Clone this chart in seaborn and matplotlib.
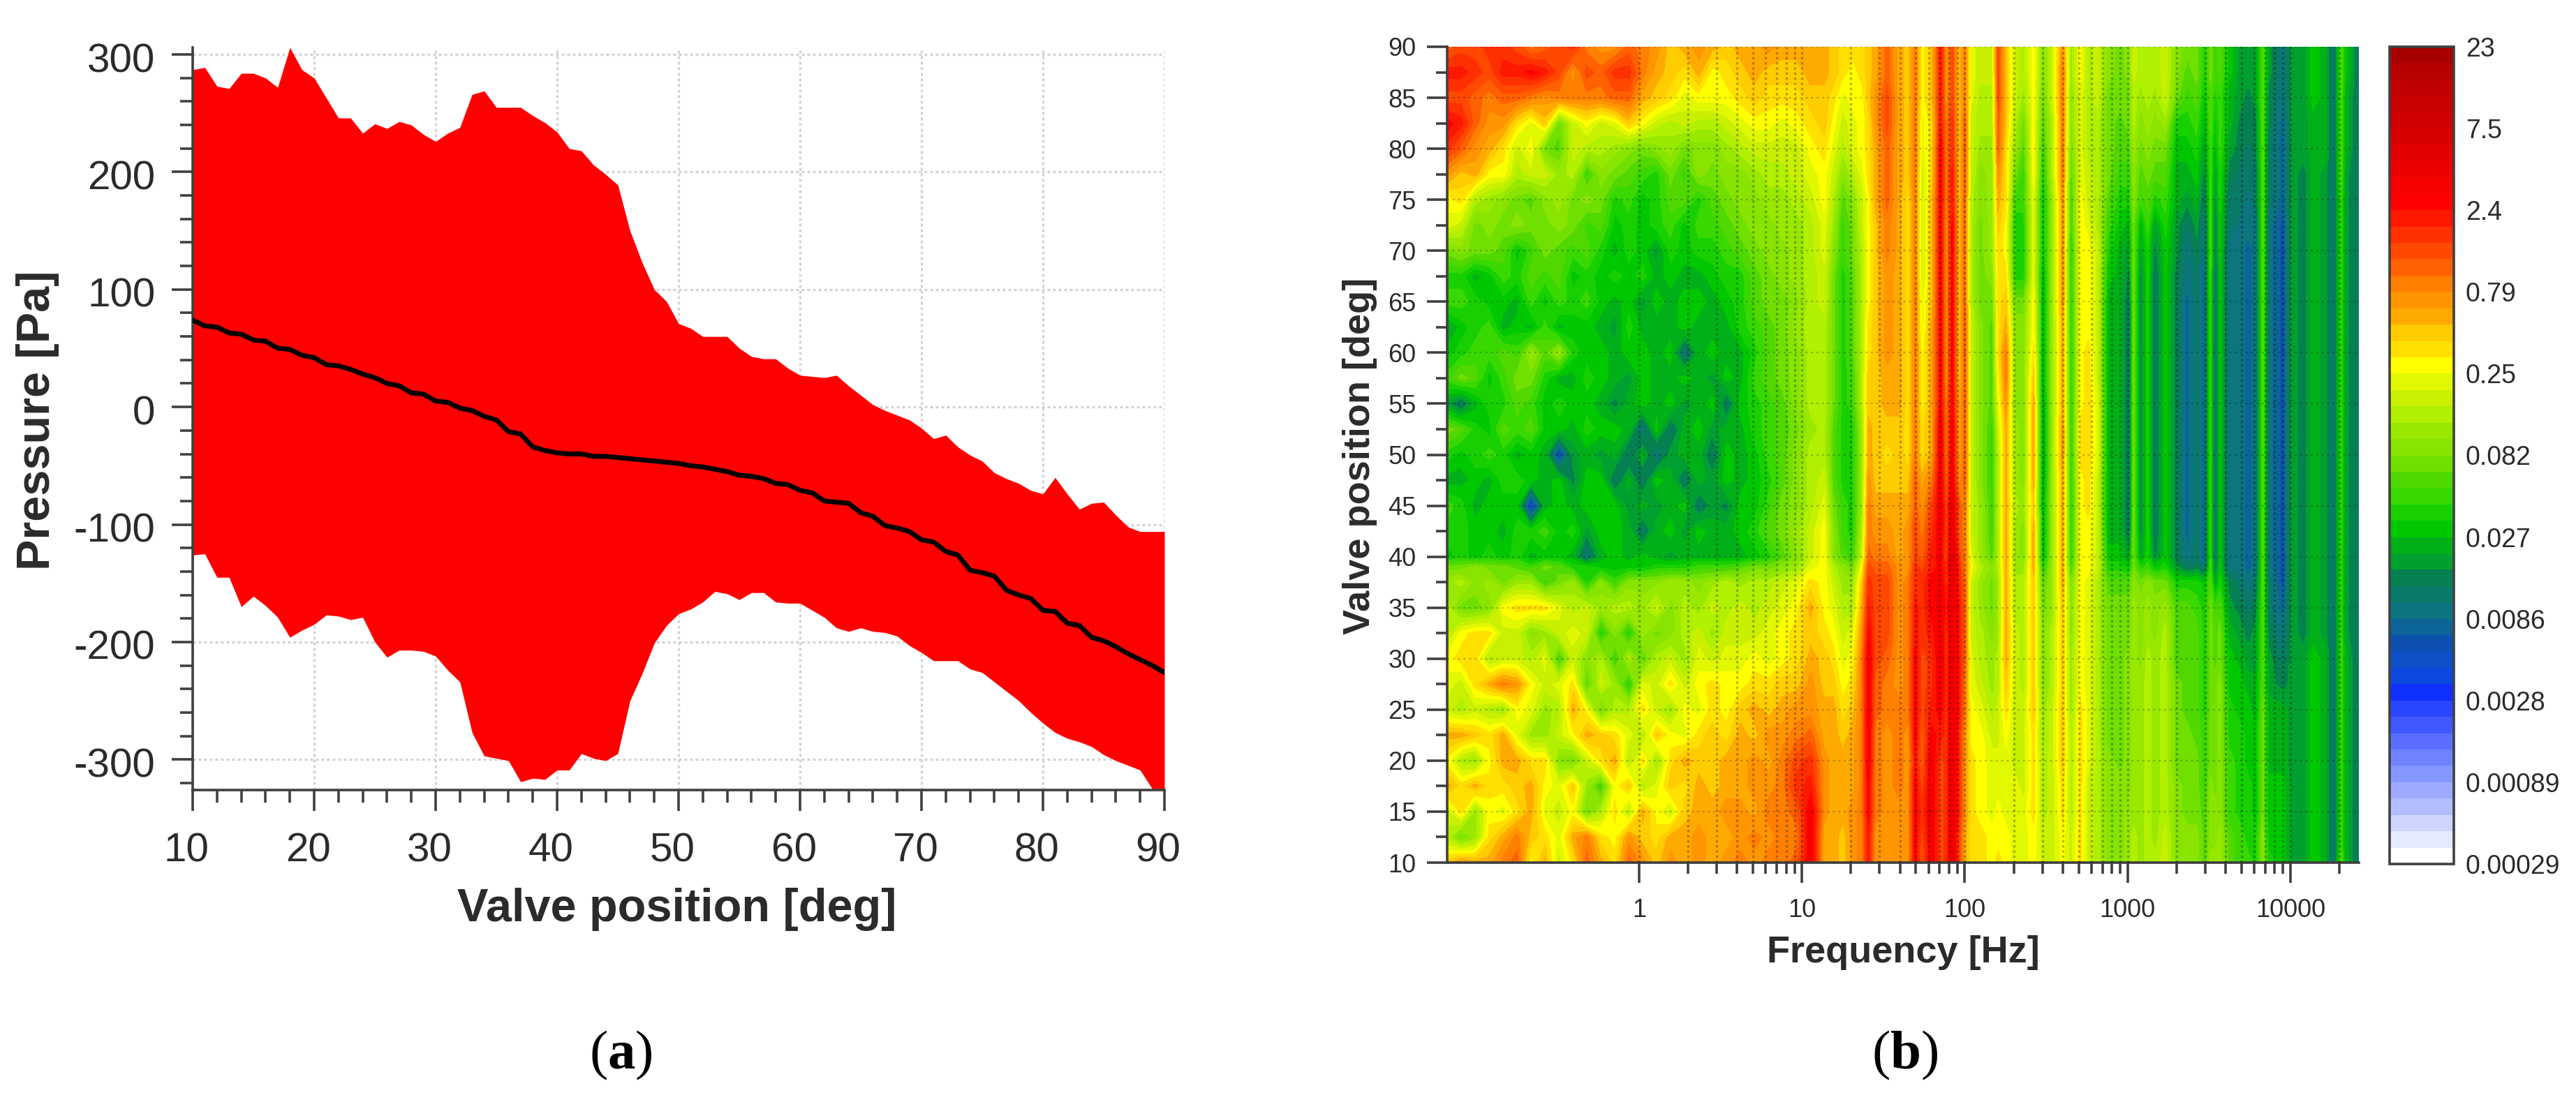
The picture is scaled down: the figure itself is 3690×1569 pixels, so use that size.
import numpy as np
import matplotlib
matplotlib.use("Agg")
import matplotlib.pyplot as plt
from matplotlib.colors import ListedColormap
from matplotlib.ticker import FixedLocator, NullFormatter
from matplotlib.transforms import ScaledTranslation
import seaborn as sns

W, H, DPI = 3691, 1569, 100

# ── (a) pressure band, one value per degree ──────────────────────────────────
valve_pos = list(range(10, 91))
pressure_mean = [74, 69, 68, 63, 62, 57, 56, 50, 49, 44, 42, 36, 35, 32, 28, 25, 20, 18, 12, 11,
                 5, 4, -1, -3, -8, -11, -21, -23, -34, -37, -39, -40, -40, -42, -42, -43, -44, -45, -46, -47,
                 -48, -50, -51, -53, -55, -58, -59, -61, -65, -66, -71, -73, -80, -81, -82, -90, -93, -101, -103, -106,
                 -113, -115, -123, -126, -139, -141, -144, -156, -160, -163, -173, -174, -184, -186, -196, -199, -204, -210, -215, -220,
                 -226]
pressure_max = [287, 289, 273, 271, 284, 284, 280, 272, 306, 287, 280, 263, 246, 246, 233, 241, 237, 243, 240, 232,
                226, 233, 238, 266, 269, 255, 255, 255, 248, 242, 234, 220, 218, 206, 198, 189, 150, 123, 100, 90,
                71, 67, 60, 60, 60, 50, 43, 41, 41, 33, 27, 26, 25, 27, 18, 10, 2, -3, -7, -11,
                -18, -27, -24, -34, -41, -46, -56, -61, -65, -71, -74, -60, -74, -87, -82, -81, -92, -102, -106, -106,
                -106]
pressure_min = [-126, -125, -145, -145, -170, -161, -169, -179, -196, -190, -185, -177, -178, -181, -179, -200, -213, -207, -207, -208,
                -212, -224, -234, -277, -297, -299, -301, -319, -316, -317, -309, -309, -295, -299, -301, -295, -250, -227, -201, -186,
                -176, -172, -166, -157, -159, -164, -158, -158, -166, -167, -167, -173, -179, -188, -191, -188, -191, -192, -195, -203,
                -209, -216, -216, -216, -223, -226, -234, -242, -250, -260, -269, -277, -282, -285, -289, -296, -301, -305, -309, -325,
                -330]

# ── (b) spectrum, colour band read per cell, rows run from 90 down to 10 deg ─
valve_rows = [90, 87.5, 85, 82.5, 80, 77.5, 75, 72.5, 70, 67.5, 65, 62.5, 60, 57.5, 55, 52.5, 50, 47.5, 45, 42.5,
              40, 39, 37.5, 35, 32.5, 30, 27.5, 25, 22.5, 20, 17.5, 15, 12.5, 10]

freq_low = [0.0663, 0.0807, 0.0984, 0.120, 0.146, 0.178, 0.217, 0.264, 0.322, 0.392, 0.477, 0.581, 0.710, 0.863,
            1.05, 1.277, 1.556, 1.90, 2.32, 2.82, 3.43, 4.18, 5.10, 6.21, 7.56, 9.21, 11.3]
band_low = [
    [36, 37, 37, 38, 38, 37, 35, 36, 37, 38, 35, 34, 34, 36, 35, 34, 32, 33, 34, 33, 32, 33, 33, 34, 33, 33, 33],
    [39, 39, 38, 37, 39, 39, 40, 39, 37, 34, 37, 36, 38, 38, 35, 33, 32, 31, 33, 30, 31, 32, 33, 32, 32, 32, 33],
    [37, 37, 36, 35, 36, 36, 35, 34, 35, 35, 35, 35, 36, 36, 33, 32, 31, 29, 30, 30, 30, 31, 32, 31, 31, 31, 32],
    [40, 39, 36, 34, 34, 31, 29, 32, 24, 28, 30, 28, 29, 32, 30, 28, 27, 28, 27, 27, 28, 29, 30, 30, 29, 30, 31],
    [38, 36, 34, 33, 31, 28, 30, 24, 23, 28, 27, 27, 26, 25, 24, 25, 26, 24, 25, 25, 26, 27, 28, 28, 28, 28, 30],
    [34, 32, 33, 30, 30, 27, 28, 28, 26, 27, 22, 25, 24, 23, 22, 21, 24, 22, 25, 24, 25, 25, 26, 27, 27, 28, 29],
    [30, 31, 27, 26, 25, 24, 23, 25, 26, 24, 25, 24, 21, 22, 20, 21, 23, 23, 21, 23, 24, 25, 25, 26, 26, 27, 28],
    [29, 28, 24, 25, 24, 25, 24, 24, 25, 24, 22, 23, 20, 21, 20, 21, 22, 20, 22, 22, 23, 24, 25, 25, 26, 26, 27],
    [24, 25, 24, 24, 23, 20, 22, 24, 23, 22, 23, 21, 19, 21, 20, 18, 21, 20, 21, 21, 22, 23, 24, 25, 25, 26, 27],
    [21, 21, 19, 20, 22, 21, 23, 22, 23, 20, 21, 20, 21, 20, 21, 19, 20, 19, 19, 20, 21, 21, 23, 24, 25, 26, 27],
    [22, 22, 21, 20, 20, 19, 22, 20, 22, 21, 22, 20, 19, 20, 18, 20, 19, 20, 20, 19, 20, 21, 23, 24, 24, 25, 27],
    [18, 20, 21, 22, 19, 20, 19, 22, 19, 20, 20, 19, 18, 21, 19, 19, 19, 20, 19, 19, 19, 21, 22, 23, 24, 26, 27],
    [20, 21, 22, 22, 23, 22, 26, 23, 26, 21, 20, 20, 19, 20, 20, 19, 20, 15, 19, 20, 19, 19, 21, 23, 24, 25, 27],
    [22, 24, 23, 20, 22, 24, 24, 21, 19, 19, 21, 20, 19, 18, 20, 19, 19, 20, 19, 18, 20, 19, 22, 23, 24, 25, 27],
    [18, 16, 19, 21, 21, 23, 22, 20, 21, 20, 20, 19, 17, 19, 20, 19, 20, 18, 19, 20, 16, 20, 21, 22, 23, 25, 27],
    [24, 23, 21, 20, 23, 22, 23, 20, 20, 19, 21, 20, 20, 19, 15, 20, 16, 19, 20, 18, 19, 19, 21, 22, 23, 24, 26],
    [21, 20, 21, 22, 21, 19, 20, 19, 12, 18, 19, 18, 19, 16, 19, 15, 18, 19, 19, 16, 20, 19, 20, 22, 23, 25, 27],
    [19, 19, 20, 19, 21, 21, 20, 19, 20, 17, 20, 20, 16, 19, 16, 20, 19, 16, 19, 18, 20, 19, 20, 21, 23, 25, 27],
    [22, 21, 19, 20, 20, 20, 11, 19, 20, 19, 20, 20, 20, 18, 19, 18, 19, 20, 16, 18, 17, 20, 20, 22, 24, 25, 27],
    [21, 21, 20, 20, 19, 21, 21, 22, 20, 21, 18, 20, 20, 19, 16, 19, 20, 18, 20, 19, 19, 20, 21, 23, 24, 26, 28],
    [20, 21, 20, 21, 20, 21, 19, 20, 20, 19, 15, 19, 20, 19, 20, 19, 18, 19, 19, 19, 19, 19, 20, 21, 23, 25, 28],
    [24, 24, 25, 24, 24, 23, 22, 24, 23, 21, 21, 20, 20, 20, 20, 21, 21, 21, 22, 22, 22, 23, 24, 24, 25, 26, 29],
    [26, 27, 25, 26, 24, 26, 26, 22, 24, 26, 21, 25, 22, 25, 25, 25, 26, 26, 25, 26, 27, 26, 27, 27, 28, 29, 31],
    [27, 24, 24, 25, 30, 31, 31, 31, 29, 27, 28, 26, 27, 27, 26, 28, 25, 27, 26, 28, 27, 28, 27, 28, 29, 30, 33],
    [27, 30, 31, 31, 28, 28, 25, 26, 28, 29, 28, 21, 25, 21, 26, 24, 25, 27, 28, 26, 28, 28, 28, 29, 30, 31, 32],
    [30, 31, 31, 27, 28, 28, 27, 29, 22, 28, 25, 27, 22, 27, 23, 27, 28, 26, 29, 28, 29, 29, 30, 29, 30, 31, 33],
    [29, 28, 31, 33, 35, 34, 30, 28, 29, 31, 23, 28, 26, 21, 29, 28, 31, 28, 30, 31, 30, 30, 31, 31, 32, 32, 34],
    [28, 27, 28, 27, 26, 30, 29, 26, 27, 33, 30, 24, 27, 27, 31, 28, 26, 30, 29, 31, 30, 32, 33, 32, 33, 34, 34],
    [33, 33, 32, 31, 33, 29, 26, 26, 28, 30, 33, 32, 31, 29, 27, 32, 30, 29, 31, 32, 31, 33, 32, 34, 34, 35, 36],
    [30, 27, 26, 30, 33, 33, 31, 31, 25, 24, 28, 31, 33, 27, 31, 26, 31, 33, 32, 32, 33, 33, 34, 33, 35, 37, 38],
    [33, 31, 33, 31, 31, 32, 33, 30, 29, 32, 26, 22, 30, 32, 27, 29, 32, 31, 33, 32, 33, 33, 34, 34, 35, 38, 39],
    [28, 31, 26, 30, 29, 31, 33, 29, 28, 30, 24, 27, 31, 27, 33, 30, 28, 32, 33, 33, 34, 34, 33, 35, 35, 36, 41],
    [27, 24, 26, 31, 33, 35, 32, 31, 29, 33, 35, 31, 30, 34, 32, 31, 33, 33, 34, 33, 33, 34, 35, 34, 35, 35, 41],
    [32, 34, 33, 33, 35, 36, 30, 33, 28, 31, 36, 33, 31, 36, 34, 32, 34, 33, 34, 33, 34, 35, 34, 35, 35, 36, 41],
]

freq_mid = [13.7, 15.6, 17.8, 20.4, 23.3, 25.6, 28.3, 33.3, 39.4, 44.8, 49.5, 54.6, 62.3, 71.1, 77.1, 83.8, 92.5,
            100, 109, 124, 147, 160, 179, 204, 229, 264, 302, 344, 399, 449]
band_mid = [
    [33, 32, 31, 31, 31, 32, 33, 36, 33, 32, 35, 30, 32, 39, 34, 37, 32, 35, 29, 28, 28, 37, 32, 28, 27, 30, 25, 28, 34, 26],
    [33, 32, 31, 30, 31, 32, 33, 36, 33, 32, 35, 30, 32, 39, 34, 37, 32, 35, 29, 28, 28, 37, 32, 28, 27, 30, 25, 28, 35, 26],
    [32, 31, 29, 30, 30, 32, 34, 37, 33, 32, 35, 30, 32, 39, 34, 37, 32, 35, 29, 27, 27, 37, 32, 28, 26, 30, 24, 28, 35, 25],
    [32, 30, 28, 29, 30, 31, 34, 37, 33, 32, 35, 29, 31, 39, 35, 38, 32, 36, 28, 27, 27, 36, 32, 27, 24, 30, 23, 27, 35, 25],
    [31, 29, 27, 29, 30, 31, 33, 36, 33, 32, 35, 29, 31, 40, 35, 38, 32, 36, 28, 26, 26, 36, 31, 26, 23, 30, 22, 27, 35, 24],
    [30, 28, 25, 27, 29, 31, 33, 36, 33, 32, 35, 28, 31, 40, 35, 39, 32, 36, 28, 25, 26, 34, 31, 24, 22, 30, 21, 27, 35, 23],
    [30, 27, 23, 25, 28, 30, 33, 36, 33, 31, 35, 28, 32, 40, 35, 39, 32, 36, 27, 25, 26, 33, 31, 22, 22, 29, 20, 26, 34, 22],
    [29, 26, 22, 24, 28, 30, 32, 35, 33, 31, 35, 28, 32, 40, 34, 40, 32, 36, 27, 24, 26, 32, 30, 21, 21, 29, 20, 26, 34, 22],
    [29, 25, 22, 24, 27, 30, 32, 35, 33, 31, 35, 28, 32, 40, 34, 40, 32, 36, 27, 24, 26, 31, 30, 21, 21, 29, 20, 26, 34, 21],
    [28, 24, 21, 23, 27, 30, 32, 34, 33, 31, 35, 28, 32, 40, 34, 40, 32, 36, 27, 24, 25, 31, 31, 21, 21, 29, 19, 26, 34, 21],
    [28, 24, 21, 23, 27, 30, 32, 34, 33, 31, 35, 29, 32, 40, 34, 40, 32, 36, 27, 24, 24, 31, 32, 24, 24, 30, 19, 26, 34, 21],
    [27, 24, 21, 23, 27, 31, 32, 34, 33, 31, 35, 29, 33, 40, 34, 40, 32, 36, 28, 25, 23, 31, 33, 25, 25, 30, 19, 26, 33, 21],
    [27, 24, 21, 23, 27, 31, 32, 34, 33, 31, 35, 30, 33, 40, 34, 40, 32, 36, 28, 25, 23, 31, 35, 25, 25, 31, 19, 26, 33, 21],
    [27, 24, 21, 22, 27, 32, 32, 33, 33, 31, 35, 30, 33, 40, 34, 40, 32, 36, 28, 25, 23, 30, 35, 25, 25, 32, 19, 26, 33, 21],
    [27, 24, 21, 22, 27, 32, 32, 33, 33, 31, 35, 30, 33, 40, 35, 40, 33, 36, 28, 25, 23, 29, 34, 25, 25, 33, 18, 26, 33, 21],
    [27, 23, 21, 21, 26, 33, 32, 32, 32, 31, 35, 31, 33, 41, 35, 41, 33, 36, 28, 25, 22, 28, 33, 26, 25, 33, 18, 26, 34, 21],
    [27, 23, 21, 21, 26, 33, 32, 31, 32, 31, 35, 31, 33, 41, 35, 41, 33, 36, 28, 25, 22, 27, 33, 26, 25, 33, 18, 26, 34, 21],
    [28, 23, 21, 21, 26, 34, 32, 32, 32, 32, 36, 33, 35, 41, 36, 41, 34, 36, 28, 25, 22, 27, 33, 26, 25, 33, 18, 26, 33, 21],
    [29, 24, 22, 21, 26, 35, 33, 33, 33, 33, 36, 34, 37, 41, 37, 42, 36, 35, 28, 26, 22, 27, 33, 27, 26, 32, 19, 26, 33, 21],
    [30, 25, 22, 21, 27, 35, 34, 34, 33, 34, 37, 35, 38, 41, 37, 42, 36, 35, 28, 26, 22, 27, 33, 26, 25, 33, 19, 26, 33, 21],
    [30, 25, 23, 22, 28, 36, 35, 35, 33, 34, 37, 36, 39, 40, 37, 43, 37, 35, 29, 26, 23, 27, 33, 26, 25, 33, 19, 26, 33, 21],
    [30, 27, 25, 24, 30, 37, 36, 36, 34, 34, 38, 37, 39, 40, 38, 43, 38, 35, 30, 27, 25, 27, 33, 26, 26, 33, 21, 26, 33, 22],
    [30, 28, 26, 26, 32, 38, 37, 37, 34, 35, 38, 38, 40, 41, 38, 42, 38, 36, 28, 26, 24, 26, 33, 27, 27, 32, 23, 26, 33, 24],
    [30, 29, 27, 27, 33, 39, 37, 37, 34, 35, 39, 38, 40, 41, 39, 42, 39, 36, 28, 26, 24, 26, 33, 27, 27, 32, 24, 26, 32, 25],
    [31, 30, 28, 29, 34, 40, 37, 37, 34, 35, 39, 38, 39, 41, 38, 42, 39, 36, 28, 27, 25, 26, 33, 28, 27, 32, 25, 27, 32, 25],
    [32, 31, 29, 30, 35, 41, 37, 36, 34, 35, 40, 37, 38, 41, 38, 42, 39, 36, 29, 27, 26, 27, 33, 28, 27, 32, 25, 27, 32, 26],
    [32, 32, 30, 31, 35, 41, 36, 35, 34, 35, 40, 37, 38, 41, 38, 42, 39, 35, 29, 28, 26, 27, 32, 28, 27, 32, 25, 27, 32, 26],
    [33, 33, 31, 32, 35, 41, 36, 35, 35, 35, 40, 37, 39, 40, 38, 42, 39, 35, 30, 29, 27, 28, 31, 28, 28, 32, 26, 28, 32, 26],
    [33, 33, 32, 33, 35, 41, 35, 34, 35, 34, 40, 36, 40, 39, 38, 42, 38, 34, 30, 30, 28, 28, 30, 28, 28, 31, 26, 28, 32, 27],
    [34, 33, 33, 33, 35, 41, 35, 34, 35, 34, 39, 36, 41, 37, 38, 42, 38, 34, 31, 30, 29, 29, 29, 28, 28, 31, 27, 28, 32, 27],
    [34, 33, 33, 33, 35, 40, 35, 34, 35, 34, 40, 37, 41, 37, 38, 42, 38, 34, 31, 30, 29, 29, 29, 29, 28, 31, 27, 28, 31, 27],
    [34, 33, 33, 34, 35, 40, 35, 34, 34, 34, 40, 38, 41, 37, 38, 42, 38, 34, 31, 30, 29, 30, 29, 29, 29, 31, 27, 28, 31, 27],
    [33, 33, 32, 34, 35, 39, 34, 34, 34, 34, 40, 37, 41, 37, 38, 42, 37, 33, 31, 31, 30, 30, 30, 29, 29, 30, 28, 28, 30, 28],
    [33, 33, 32, 34, 35, 39, 34, 34, 34, 34, 40, 36, 41, 37, 38, 42, 37, 33, 31, 31, 30, 31, 30, 29, 29, 30, 28, 28, 30, 28],
]

freq_high = [512, 574, 655, 759, 895, 1021, 1083, 1205, 1330, 1468, 1702, 1972, 2324, 2653, 2974, 3229, 3444, 3681,
             4200, 4955, 5470, 6134, 6767, 7351, 8954, 10220, 12040, 13730, 16450, 18450, 20370, 21760, 26300]
band_high = [
    [30, 27, 28, 25, 24, 25, 28, 27, 27, 27, 28, 25, 24, 24, 21, 24, 22, 23, 20, 18, 18, 18, 23, 18, 15, 18, 18, 20, 19, 15, 23, 20, 16],
    [30, 27, 28, 25, 24, 25, 28, 27, 27, 27, 28, 25, 23, 24, 21, 24, 22, 23, 20, 18, 18, 18, 23, 18, 15, 18, 18, 20, 19, 15, 23, 20, 16],
    [29, 27, 28, 24, 24, 24, 27, 26, 27, 26, 28, 24, 22, 23, 20, 23, 21, 22, 19, 18, 17, 18, 23, 17, 15, 18, 18, 20, 19, 15, 23, 19, 16],
    [29, 27, 27, 24, 23, 24, 27, 25, 26, 25, 26, 21, 21, 22, 19, 23, 20, 22, 19, 17, 17, 17, 23, 17, 14, 18, 18, 19, 19, 15, 23, 19, 16],
    [29, 27, 27, 24, 23, 23, 26, 24, 25, 24, 24, 20, 20, 21, 18, 22, 19, 22, 18, 17, 16, 17, 23, 16, 14, 18, 18, 19, 19, 15, 23, 19, 16],
    [29, 28, 27, 24, 22, 22, 25, 23, 24, 23, 23, 19, 19, 20, 17, 22, 18, 21, 17, 16, 16, 16, 23, 16, 14, 18, 17, 19, 18, 15, 23, 18, 16],
    [30, 28, 27, 23, 21, 21, 25, 22, 23, 21, 22, 19, 18, 19, 16, 22, 17, 21, 16, 16, 15, 16, 23, 16, 14, 18, 17, 19, 18, 15, 22, 18, 16],
    [30, 29, 27, 22, 20, 19, 24, 19, 22, 18, 21, 18, 16, 18, 15, 22, 16, 20, 16, 15, 15, 15, 23, 15, 13, 18, 17, 19, 18, 15, 22, 18, 16],
    [30, 30, 28, 21, 19, 18, 24, 18, 21, 17, 20, 18, 15, 17, 15, 22, 16, 20, 15, 15, 14, 15, 23, 15, 13, 18, 17, 19, 18, 15, 22, 18, 16],
    [30, 30, 28, 20, 19, 17, 24, 17, 21, 16, 20, 17, 15, 16, 14, 22, 15, 20, 15, 15, 14, 15, 23, 15, 13, 18, 17, 19, 18, 15, 22, 18, 16],
    [30, 30, 28, 19, 19, 16, 24, 17, 21, 16, 20, 17, 14, 16, 14, 22, 15, 20, 15, 15, 14, 15, 23, 15, 13, 18, 17, 19, 18, 15, 22, 18, 16],
    [30, 30, 28, 19, 19, 16, 24, 17, 21, 16, 20, 17, 14, 16, 14, 22, 15, 20, 15, 15, 14, 15, 23, 15, 13, 18, 17, 19, 18, 15, 22, 18, 16],
    [30, 31, 28, 19, 19, 16, 24, 17, 21, 16, 20, 17, 14, 16, 14, 22, 15, 20, 15, 15, 14, 15, 23, 15, 13, 18, 17, 19, 18, 15, 22, 18, 16],
    [30, 31, 28, 19, 19, 16, 24, 17, 21, 16, 20, 17, 14, 16, 14, 22, 15, 20, 15, 15, 14, 15, 23, 15, 13, 18, 17, 19, 18, 15, 22, 18, 16],
    [30, 31, 29, 19, 19, 16, 24, 17, 21, 16, 20, 17, 14, 16, 14, 22, 15, 20, 15, 15, 14, 15, 23, 15, 13, 18, 17, 19, 18, 15, 22, 18, 16],
    [31, 31, 29, 19, 19, 16, 24, 17, 21, 16, 20, 17, 14, 16, 14, 22, 15, 20, 15, 15, 14, 15, 23, 15, 13, 18, 17, 19, 18, 15, 22, 18, 16],
    [31, 31, 29, 19, 19, 16, 24, 17, 21, 16, 20, 17, 14, 16, 14, 22, 15, 20, 15, 15, 14, 15, 23, 15, 13, 18, 17, 19, 18, 15, 22, 18, 16],
    [30, 31, 28, 19, 19, 16, 24, 17, 21, 16, 20, 17, 14, 16, 14, 22, 15, 20, 15, 15, 14, 15, 23, 15, 13, 18, 17, 19, 18, 15, 22, 18, 16],
    [30, 31, 28, 19, 19, 16, 24, 17, 21, 16, 20, 17, 14, 16, 14, 22, 15, 20, 15, 15, 14, 15, 23, 15, 13, 18, 17, 19, 18, 15, 22, 18, 16],
    [30, 30, 28, 19, 19, 16, 24, 17, 21, 16, 20, 17, 14, 16, 14, 22, 15, 20, 15, 15, 14, 15, 23, 15, 13, 18, 17, 19, 18, 15, 22, 18, 16],
    [30, 30, 28, 20, 20, 18, 24, 18, 21, 17, 20, 17, 15, 16, 14, 22, 15, 20, 15, 15, 14, 15, 23, 15, 13, 18, 17, 19, 18, 15, 22, 18, 16],
    [30, 30, 28, 21, 21, 20, 24, 21, 22, 20, 21, 18, 16, 17, 15, 22, 16, 20, 15, 15, 14, 15, 23, 15, 13, 18, 17, 19, 18, 15, 22, 18, 16],
    [30, 29, 27, 23, 23, 23, 25, 24, 25, 24, 24, 21, 21, 21, 20, 23, 18, 21, 17, 16, 15, 16, 23, 16, 13, 18, 17, 19, 18, 15, 22, 18, 16],
    [30, 29, 27, 24, 24, 24, 26, 25, 26, 25, 26, 23, 23, 22, 21, 24, 22, 23, 18, 17, 16, 17, 23, 16, 14, 18, 17, 19, 18, 15, 22, 18, 16],
    [30, 29, 27, 24, 24, 24, 26, 25, 26, 25, 27, 23, 23, 23, 21, 24, 23, 24, 19, 18, 17, 18, 23, 17, 15, 18, 17, 19, 18, 15, 22, 18, 16],
    [30, 29, 27, 24, 24, 25, 26, 25, 27, 26, 27, 23, 23, 23, 21, 24, 23, 24, 20, 19, 18, 18, 23, 18, 16, 18, 18, 20, 19, 15, 22, 19, 16],
    [30, 29, 27, 24, 24, 25, 26, 26, 27, 26, 27, 24, 23, 23, 21, 24, 24, 25, 20, 20, 19, 19, 23, 18, 17, 18, 18, 20, 19, 15, 22, 19, 16],
    [31, 29, 27, 24, 24, 25, 26, 26, 27, 26, 27, 24, 23, 23, 21, 24, 24, 25, 21, 20, 20, 19, 24, 19, 19, 18, 18, 20, 19, 15, 22, 19, 16],
    [31, 29, 27, 24, 24, 25, 26, 26, 27, 26, 27, 24, 24, 23, 22, 24, 24, 25, 21, 21, 20, 20, 24, 19, 19, 18, 18, 20, 19, 15, 22, 19, 16],
    [31, 29, 27, 25, 24, 25, 26, 26, 27, 26, 27, 24, 24, 24, 22, 24, 24, 25, 22, 21, 20, 20, 24, 19, 19, 18, 18, 20, 19, 15, 22, 19, 16],
    [31, 28, 27, 25, 25, 25, 26, 26, 27, 26, 27, 25, 24, 24, 22, 25, 24, 25, 22, 21, 21, 20, 24, 20, 20, 18, 18, 20, 19, 15, 22, 19, 16],
    [31, 28, 27, 25, 25, 26, 26, 26, 27, 26, 27, 25, 24, 24, 23, 25, 25, 25, 22, 21, 21, 20, 24, 20, 20, 18, 18, 20, 19, 15, 22, 19, 16],
    [31, 28, 27, 25, 25, 26, 27, 26, 27, 26, 28, 25, 25, 25, 23, 25, 25, 26, 23, 22, 21, 21, 25, 20, 20, 18, 18, 20, 19, 15, 22, 19, 16],
    [31, 28, 27, 25, 25, 26, 27, 26, 27, 27, 28, 25, 25, 25, 23, 26, 26, 26, 23, 22, 22, 21, 25, 21, 20, 18, 18, 20, 19, 15, 23, 19, 16],
]

band_colors = ["#ffffff", "#e6eaff", "#ced6ff", "#b3bdff", "#9eaaff", "#8596ff", "#6f82ff", "#5a6fff", "#4058ff", "#2a45ff",
               "#1030ff", "#0d48e0", "#0e50c8", "#0e50b0", "#0c6498", "#0c7580", "#0a7a68", "#058050", "#00a030", "#00b018",
               "#00c800", "#18d000", "#38d800", "#50d800", "#70e000", "#88e400", "#98e800", "#b0f000", "#c8f000", "#e0f800",
               "#ffff00", "#ffe000", "#ffcc00", "#ffaa00", "#ff9500", "#ff7f00", "#ff6000", "#ff4800", "#ff3000", "#ff1800",
               "#ff0000", "#f60000", "#ec0000", "#e20000", "#d80000", "#d00000", "#c80000", "#c00000", "#b80000", "#a80000"]
cbar_bands = [0, 5, 10, 15, 20, 25, 30, 35, 40, 45, 50]
cbar_labels = ["0.00029", "0.00089", "0.0028", "0.0086", "0.027", "0.082", "0.25", "0.79", "2.4", "7.5", "23"]

freq_major = [1, 10, 100, 1000, 10000]
freq_minor = [k * 10**d for d in range(4) for k in range(2, 10)] + [20000]

sns.set_theme(style="white")
plt.rcParams["font.family"] = ["Liberation Sans", "DejaVu Sans"]
plt.rcParams["text.color"] = "#2b2b2b"
plt.rcParams["mathtext.fontset"] = "custom"
plt.rcParams["mathtext.bf"] = "Liberation Serif:bold"
plt.rcParams["mathtext.rm"] = "Liberation Serif"

DARK = "#404040"
fig = plt.figure(figsize=(W / DPI, H / DPI), dpi=DPI, facecolor="white")


def px_axes(x0, y0, x1, y1):
    # pixel box measured on the reference, y from the top
    return fig.add_axes([x0 / W, 1 - y1 / H, (x1 - x0) / W, (y1 - y0) / H])


def px_text(x, y, s, **kw):
    fig.text(x / W, 1 - y / H, s, ha="center", va="center", **kw)


def style_spines(ax):
    for side in ["top", "right"]:
        ax.spines[side].set_visible(False)
    for side in ["left", "bottom"]:
        ax.spines[side].set_color(DARK)
        ax.spines[side].set_linewidth(2.6)


# ── panel (a) ────────────────────────────────────────────────────────────────
ax1 = px_axes(276, 68, 1668, 1132)
ax1.fill_between(valve_pos, pressure_min, pressure_max, color="#ff0000", lw=0, zorder=2)
sns.lineplot(x=valve_pos, y=pressure_mean, color="black", linewidth=5, ax=ax1, zorder=3)
ax1.set_xlim(10, 90)
ax1.set_ylim(-326, 306)
ax1.set_xticks(range(10, 91, 10))
ax1.set_xticks(range(10, 91, 2), minor=True)
ax1.set_yticks(range(-300, 301, 100))
ax1.set_yticks(range(-320, 301, 20), minor=True)
ax1.set_yticklabels(["-300", "-200", "-100", "0", "100", "200", "300"])
ax1.grid(True, which="major", color="#d4d4d4", linewidth=2.4, linestyle=(0, (1.2, 1.2)), zorder=1)
ax1.set_axisbelow(True)
style_spines(ax1)
ax1.tick_params(which="major", length=21.6, width=2.6, color=DARK, labelsize=42, labelcolor="#2b2b2b")
ax1.tick_params(which="minor", length=13, width=2.6, color=DARK)
ax1.tick_params(axis="x", which="major", pad=22, bottom=True)
ax1.tick_params(axis="y", which="major", pad=17, left=True)
ax1.tick_params(axis="x", which="minor", bottom=True)
ax1.tick_params(axis="y", which="minor", left=True)
for lab in ax1.get_xticklabels():
    lab.set_transform(lab.get_transform() + ScaledTranslation(-9 / DPI, 0, fig.dpi_scale_trans))
for lab in ax1.get_yticklabels():
    lab.set_transform(lab.get_transform() + ScaledTranslation(0, -4 / DPI, fig.dpi_scale_trans))
px_text(970, 1303, "Valve position [deg]", fontsize=48, fontweight="bold")
px_text(54, 602, "Pressure [Pa]", fontsize=48, fontweight="bold", rotation=90)

# ── panel (b) ────────────────────────────────────────────────────────────────
freq_hz = freq_low + freq_mid + freq_high
bands = np.hstack([np.array(band_low), np.array(band_mid), np.array(band_high)])
# flip so the rows run upward, +0.5 puts each cell in the middle of its colour band
valve_up = np.array(valve_rows)[::-1]
cmap = ListedColormap(sns.color_palette(band_colors))

ax2 = px_axes(2073, 67, 3379, 1236)
cs = ax2.contourf(freq_hz, valve_up, bands[::-1] + 0.5, levels=np.arange(0, 51), cmap=cmap, zorder=1)
ax2.set_xscale("log")
ax2.set_xlim(0.0663, 26300)
ax2.set_ylim(10, 90)
ax2.xaxis.set_major_locator(FixedLocator(freq_major))
ax2.xaxis.set_minor_locator(FixedLocator(freq_minor))
ax2.xaxis.set_minor_formatter(NullFormatter())
ax2.set_xticklabels([str(f) for f in freq_major])
ax2.set_yticks(range(10, 91, 5))
ax2.set_yticks(np.arange(12.5, 90, 5), minor=True)
ax2.set_axisbelow(False)
ax2.grid(True, which="both", axis="x", color="black", alpha=0.28, linewidth=2.4, linestyle=(0, (1, 1.2)))
ax2.grid(True, which="major", axis="y", color="black", alpha=0.2, linewidth=1.6, linestyle=(0, (1.5, 2)))
style_spines(ax2)
ax2.tick_params(which="major", length=21, width=2.6, color=DARK, labelsize=26, labelcolor="#2b2b2b")
ax2.tick_params(which="minor", length=11.5, width=2.6, color=DARK)
ax2.tick_params(axis="x", which="major", pad=16, bottom=True)
ax2.tick_params(axis="y", which="major", pad=11, left=True)
ax2.tick_params(axis="x", which="minor", bottom=True)
ax2.tick_params(axis="y", which="minor", left=True)
px_text(2726, 1365, "Frequency [Hz]", fontsize=39, fontweight="bold")
px_text(1948, 653, "Valve position [deg]", fontsize=39, fontweight="bold", rotation=90)

# colour bar
cax = px_axes(3423, 67, 3515, 1238)
cb = fig.colorbar(cs, cax=cax, ticks=cbar_bands)
cb.ax.set_yticklabels(cbar_labels)
cb.minorticks_off()
cb.outline.set_edgecolor(DARK)
cb.outline.set_linewidth(2.6)
cb.ax.tick_params(right=True, direction="in", length=8, width=1.6, color="#303030", labelsize=27, pad=12,
                  labelcolor="#2b2b2b")

# panel letters
px_text(889, 1512, r"($\mathbf{a}$)", fontsize=57, family="Liberation Serif", color="black")
px_text(2729, 1512, r"($\mathbf{b}$)", fontsize=57, family="Liberation Serif", color="black")

fig.savefig("out.png", dpi=DPI, facecolor="white")
